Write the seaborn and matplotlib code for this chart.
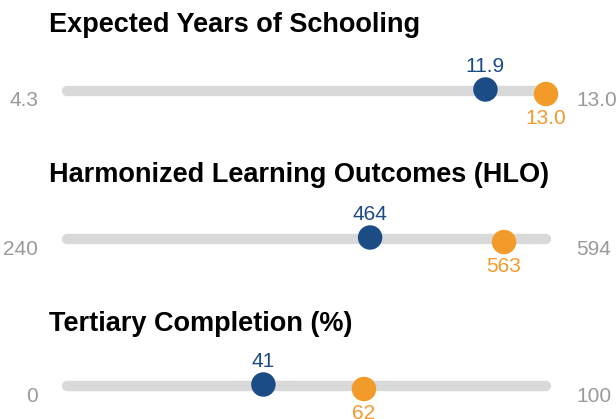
import matplotlib
matplotlib.use("Agg")
import matplotlib.pyplot as plt
import seaborn as sns
import pandas as pd

# chart values
titles = ["Expected Years of Schooling", "Harmonized Learning Outcomes (HLO)", "Tertiary Completion (%)"]
min_vals = [4.3, 240, 0]
max_vals = [13.0, 594, 100]
blue_vals = [11.9, 464, 41]
orange_vals = [13.0, 563, 62]
blue_labels = ["11.9", "464", "41"]
orange_labels = ["13.0", "563", "62"]
min_labels = ["4.3", "240", "0"]
max_labels = ["13.0", "594", "100"]

BLUE = "#1c4c85"
ORANGE = "#f29a2a"
TRACK = "#d9d9d9"
GREY = "#9a9a9a"

sns.set_style("white")
plt.rcParams['font.family'] = ['Liberation Sans', 'DejaVu Sans']

W, H = 616, 419
fig = plt.figure(figsize=(W / 100, H / 100), dpi=100)

track_y = [91, 239, 386]   # pixel rows of the tracks
title_y = [25, 175, 324]
x0, x1 = 67, 546

for i in range(3):
    ax = fig.add_axes([x0 / W, 1 - (track_y[i] + 30) / H, (x1 - x0) / W, 60 / H])
    ax.set_xlim(min_vals[i], max_vals[i])
    ax.set_ylim(30, -30)
    ax.axis("off")

    # background track
    ax.plot([min_vals[i], max_vals[i]], [0, 0], color=TRACK, lw=7.5,
            solid_capstyle="round", clip_on=False, zorder=1)

    df = pd.DataFrame({"value": [blue_vals[i], orange_vals[i]],
                       "y": [-1.5, 3],
                       "grp": ["blue", "orange"]})
    sns.scatterplot(data=df, x="value", y="y", hue="grp",
                    palette={"blue": BLUE, "orange": ORANGE},
                    s=310, linewidth=0, legend=False, ax=ax,
                    clip_on=False, zorder=3)

    ax.annotate(blue_labels[i], (blue_vals[i], -1.5), xytext=(0, 23),
                textcoords="offset pixels", ha="center", va="center",
                color=BLUE, fontsize=15)
    ax.annotate(orange_labels[i], (orange_vals[i], 3), xytext=(0, -24),
                textcoords="offset pixels", ha="center", va="center",
                color=ORANGE, fontsize=15)

    fig.text(38 / W, 1 - (track_y[i] + 10) / H, min_labels[i], ha="right",
             va="center", color=GREY, fontsize=15)
    fig.text(576 / W, 1 - (track_y[i] + 10) / H, max_labels[i], ha="left",
             va="center", color=GREY, fontsize=15)
    fig.text(49 / W, 1 - title_y[i] / H, titles[i], ha="left", va="center",
             fontweight="bold", fontsize=19.5, color="black")

fig.savefig("out.png", dpi=100)
